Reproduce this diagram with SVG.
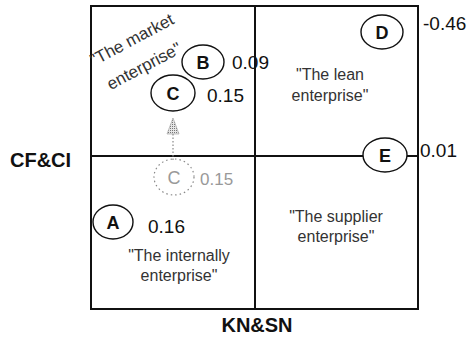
<svg xmlns="http://www.w3.org/2000/svg" width="468" height="338" viewBox="0 0 468 338">
  <style>
    .frame { fill: none; stroke: #111; stroke-width: 2; }
    .axis { stroke: #111; stroke-width: 2; }
    .node { fill: #fff; stroke: #111; stroke-width: 1.4; }
    .letter { font-family: "Liberation Sans", Arial, sans-serif; font-weight: bold; font-size: 18px; fill: #111; text-anchor: middle; }
    .value { font-family: "Liberation Sans", Arial, sans-serif; font-size: 19px; fill: #111; }
    .quad { font-family: "Liberation Sans", Arial, sans-serif; font-size: 16px; fill: #333; text-anchor: middle; }
    .axislabel { font-family: "Liberation Sans", Arial, sans-serif; font-weight: bold; font-size: 20px; fill: #111; }
    .ghost { fill: none; stroke: #888; stroke-width: 1.2; stroke-dasharray: 1.5 3; }
    .ghosttext { fill: #999; }
  </style>
  <defs>
    <pattern id="stipple" width="2" height="2" patternUnits="userSpaceOnUse">
      <rect width="2" height="2" fill="#e6e6e6"/>
      <rect width="1" height="1" fill="#777"/>
    </pattern>
  </defs>

  <rect width="468" height="338" fill="#fff"/>

  <!-- quadrant frame and axes -->
  <g id="frame">
    <rect class="frame" x="91" y="6" width="327" height="303"/>
    <line class="axis" x1="255" y1="6" x2="255" y2="309"/>
    <line class="axis" x1="91" y1="156" x2="363" y2="156"/>
    <line class="axis" x1="407" y1="156" x2="418" y2="156"/>
  </g>

  <!-- axis titles -->
  <text class="axislabel" x="10" y="167">CF&amp;CI</text>
  <text class="axislabel" x="257" y="332" text-anchor="middle">KN&amp;SN</text>

  <!-- quadrant names -->
  <g id="quadrant-labels">
    <text class="quad" style="font-size:17px" transform="translate(141 56) rotate(-28)">
      <tspan x="2" y="-13">"The market</tspan>
      <tspan x="-2" y="16">enterprise"</tspan>
    </text>
    <text class="quad" x="330" y="80">"The lean<tspan x="330" y="101">enterprise"</tspan></text>
    <text class="quad" x="336" y="222">"The supplier<tspan x="336" y="242">enterprise"</tspan></text>
    <text class="quad" x="179" y="261">"The internally<tspan x="179" y="281">enterprise"</tspan></text>
  </g>

  <!-- shift of C between positions -->
  <g id="connectors">
    <line x1="173" y1="160" x2="173" y2="133" stroke="#888" stroke-width="1.2" stroke-dasharray="1.5 2"/>
    <polygon points="173,118 167,134 179,134" fill="url(#stipple)" stroke="#999" stroke-width="0.6"/>
  </g>

  <g id="node-C-previous">
    <ellipse class="ghost" cx="174" cy="177" rx="20" ry="18"/>
    <text class="letter ghosttext" x="174" y="184" style="font-weight:normal">C</text>
    <text class="value ghosttext" x="200" y="185" style="font-size:17px">0.15</text>
  </g>

  <g id="node-A">
    <ellipse class="node" cx="113" cy="222" rx="20" ry="17"/>
    <text class="letter" x="113" y="229">A</text>
    <text class="value" x="148" y="233">0.16</text>
  </g>

  <g id="node-B">
    <ellipse class="node" cx="203" cy="62" rx="21" ry="17"/>
    <text class="letter" x="203" y="69">B</text>
    <text class="value" x="232" y="69">0.09</text>
  </g>

  <g id="node-C">
    <ellipse class="node" cx="173" cy="93" rx="22" ry="18"/>
    <text class="letter" x="173" y="100">C</text>
    <text class="value" x="207" y="102">0.15</text>
  </g>

  <g id="node-D">
    <ellipse class="node" cx="382" cy="32" rx="21" ry="17"/>
    <text class="letter" x="382" y="39">D</text>
    <text class="value" x="423" y="30">-0.46</text>
  </g>

  <g id="node-E">
    <ellipse class="node" cx="385" cy="155" rx="22" ry="17"/>
    <text class="letter" x="385" y="162">E</text>
    <text class="value" x="420" y="157">0.01</text>
  </g>
</svg>
